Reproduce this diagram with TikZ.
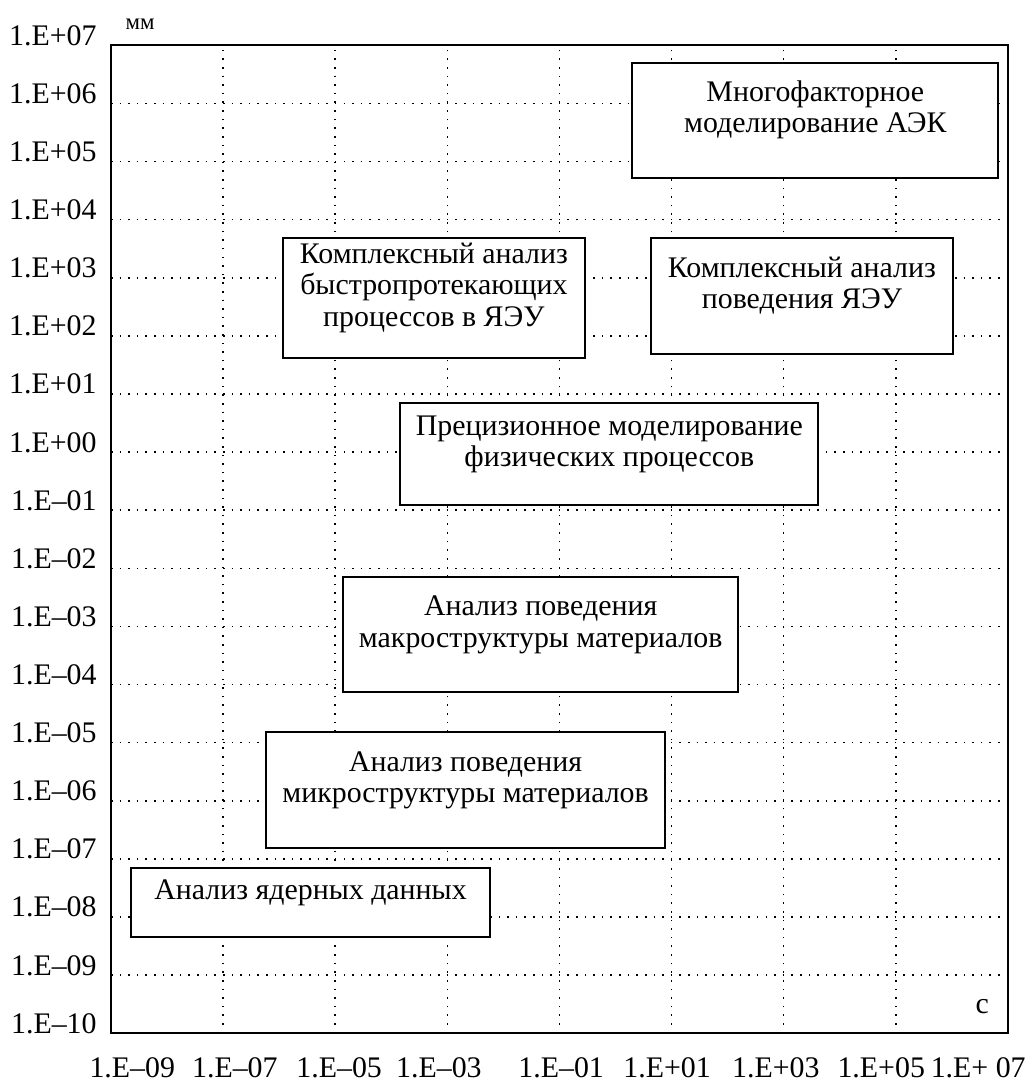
\documentclass[tikz,border=0pt]{standalone}
\usepackage{fontspec}
\setmainfont{Liberation Serif}
\usetikzlibrary{
    fit,
    positioning,
}

\begin{document}
\begin{tikzpicture}[
    x=1.121cm, y=1.162cm,
    font=\fontsize{17}{18}\selectfont,
    frame/.style={draw, line width=1.1pt},
    griddot/.style={line width=0.9pt, dash pattern=on 0.9pt off 4pt},
    field/.style={draw, line width=1.1pt, fill=white, align=center, inner sep=0pt},
    ticklabel/.style={inner sep=0pt},
]
\useasboundingbox (-10.98,-10.84) rectangle (7.43,7.78);

% grid and frame
\foreach \y in {-9,...,6}
    \draw[griddot] (-9,\y) -- (7,\y);
\foreach \x in {-7,-5,...,5}
    \draw[griddot] (\x,-10) -- (\x,7);
\draw[frame] (-9,-10) rectangle (7,7);

% axis labels
\foreach \y/\e in {7/+07,6/+06,5/+05,4/+04,3/+03,2/+02,1/+01,0/+00,-1/–01,-2/–02,-3/–03,-4/–04,-5/–05,-6/–06,-7/–07,-8/–08,-9/–09,-10/–10}
    \node[ticklabel, anchor=base east] (ly\y) at (-9.25,\y) {1.E\e};
\foreach \x/\e [count=\i] in {-8.62/–09,-6.79/–07,-4.93/–05,-3.15/–03,-0.97/–01,0.92/+01,2.86/+03,4.74/+05,6.47/{+ 07}}
    \node[ticklabel, anchor=base] (lx\i) at (\x,-10.76) {1.E\e};
\node (mm) at (-8.48,7.37) {\fontsize{13}{15}\selectfont мм};
\node (sec) at (6.54,-9.55) {с};

% fields
\node[field, fit={(0.3,4.72) (6.83,6.70)}] (aek) {Многофакторное\\моделирование АЭК};
\node[field, fit={(0.63,1.69) (6.02,3.68)}] (yeu) {Комплексный анализ\\поведения ЯЭУ};
\node[field, fit={(-5.93,1.62) (-0.55,3.68)}] (fast) {Комплексный анализ\\быстропротекающих\\процессов в ЯЭУ};
\node[field, fit={(-3.84,-0.91) (3.62,0.84)}] (phys) {Прецизионное моделирование\\физических процессов};
\node[field, fit={(-4.86,-4.13) (2.19,-2.15)}] (macro) {Анализ поведения\\макроструктуры материалов};
\node[field, fit={(-6.23,-6.82) (0.88,-4.82)}] (micro) {Анализ поведения\\микроструктуры материалов};
\node[field, text depth=0pt, fit={(-8.64,-8.35) (-2.24,-7.16)}] (nucl) {Анализ ядерных данных};

\end{tikzpicture}
\end{document}
